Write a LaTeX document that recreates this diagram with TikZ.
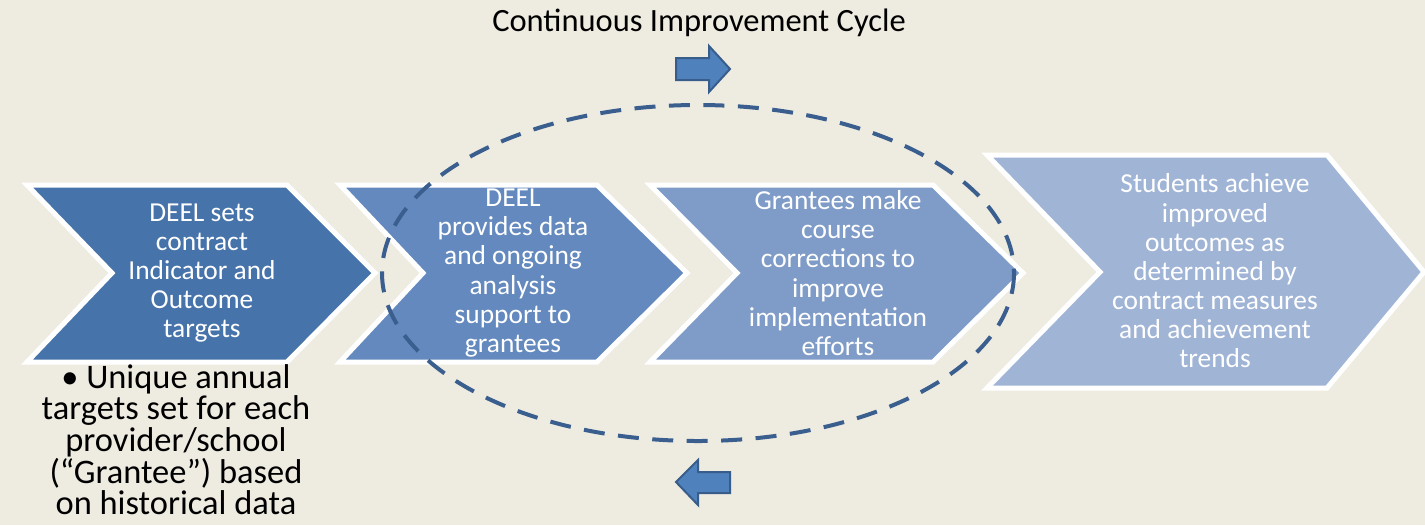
\documentclass[tikz,border=0pt]{standalone}
\usepackage{fontspec}
\setmainfont{Carlito}
\usetikzlibrary{positioning}
\definecolor{bgcream}{HTML}{EEEBE1}
\definecolor{stepA}{HTML}{4673AA}
\definecolor{stepB}{HTML}{6389BE}
\definecolor{stepC}{HTML}{7F9CC8}
\definecolor{stepD}{HTML}{A0B4D6}
\definecolor{cycleblue}{HTML}{3A5F8F}
\definecolor{arrowfill}{HTML}{4F81BD}
\definecolor{arrowline}{HTML}{385D8A}
\tikzset{%
	chev/.style={draw=white, line width=0.1cm, line join=miter},
	steptext/.style={text=white, align=center, inner sep=0pt,%
		font=\fontsize{15.6}{16.6}\selectfont},
	notetext/.style={align=center, inner sep=0pt,%
		font=\fontsize{19.6}{18}\selectfont},
	cycle/.style={draw=cycleblue, line width=0.08cm, dash pattern=on 0.42cm off 0.27cm},
	blockarrow/.style={fill=arrowfill, draw=arrowline, line width=0.04cm}
}
\begin{document}
\begin{tikzpicture}[x=0.02cm, y=-0.02cm]
	\fill[bgcream] (0,0) rectangle (1425,525);
	\useasboundingbox (0,0) rectangle (1425,525);

	% the four steps
	\fill[stepA, chev] (27,185) -- (287,185) -- (375,273) -- (287,362) -- (27,362) -- (112,273) -- cycle;
	\fill[stepB, chev] (340,185) -- (597,185) -- (687,273) -- (597,362) -- (340,362) -- (423,273) -- cycle;
	\fill[stepC, chev] (650,185) -- (933,185) -- (1023,273) -- (933,362) -- (650,362) -- (737,273) -- cycle;
	\fill[stepD, chev] (987,155) -- (1327,155) -- (1424,272) -- (1327,388) -- (987,388) -- (1100,272) -- cycle;

	\node[steptext] (targets) at (202,273) {DEEL sets\\contract\\Indicator and\\Outcome\\targets};
	\node[steptext] (support) at (513,273) {DEEL\\provides data\\and ongoing\\analysis\\support to\\grantees};
	\node[steptext] (correct) at (838,273) {Grantees make\\course\\corrections to\\improve\\implementation\\efforts};
	\node[steptext] (outcome) at (1215,271) {Students achieve\\improved\\outcomes as\\determined by\\contract measures\\and achievement\\trends};

	\node[notetext, below=12pt of targets.south, xshift=-0.52cm] (note)
		{• Unique annual\\targets set for each\\provider/school\\(“Grantee”) based\\on historical data};

	% the cycle
	\draw[cycle] (698,273) ellipse [x radius=316, y radius=168];
	\node[font=\fontsize{18.5}{20}\selectfont] (title) at (699,23) {Continuous Improvement Cycle};

	\filldraw[blockarrow] (676,58) -- (709,58) -- (709,46) -- (730,69) -- (709,92) -- (709,80) -- (676,80) -- cycle;
	\filldraw[blockarrow] (730,472) -- (698,472) -- (698,460) -- (676,482) -- (698,505) -- (698,493) -- (730,493) -- cycle;

\end{tikzpicture}
\end{document}
